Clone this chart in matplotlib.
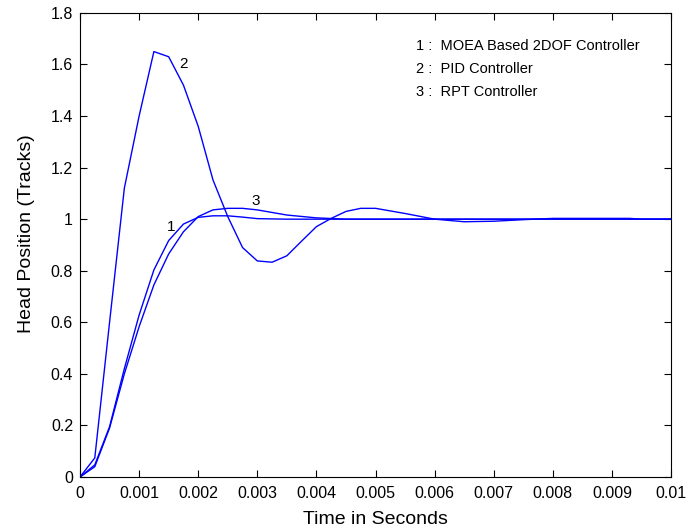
import matplotlib.pyplot as plt

plt.rcParams['font.family'] = ['Liberation Sans', 'DejaVu Sans']

# time samples (s)
t1 = [0, 0.00025, 0.0005, 0.00075, 0.001, 0.00125, 0.0015, 0.00175, 0.002, 0.00225,
      0.0025, 0.00275, 0.003, 0.0035, 0.004, 0.005, 0.006, 0.007, 0.008, 0.009, 0.01]
moea = [0, 0.047, 0.195, 0.42, 0.628, 0.803, 0.917, 0.981, 1.007, 1.013,
        1.013, 1.008, 1.002, 1.0, 1.0, 1.0, 1.0, 1.0, 1.0, 1.0, 1.0]

t2 = [0, 0.00025, 0.0005, 0.00075, 0.001, 0.00125, 0.0015, 0.00175, 0.002, 0.00225,
      0.0025, 0.00275, 0.003, 0.00325, 0.0035, 0.00375, 0.004, 0.00425, 0.0045,
      0.00475, 0.005, 0.0055, 0.006, 0.0065, 0.007, 0.0075, 0.008, 0.0085, 0.009,
      0.0093, 0.0095, 0.01]
pid = [0, 0.074, 0.6, 1.12, 1.40, 1.65, 1.63, 1.52, 1.36, 1.152,
       1.01, 0.89, 0.838, 0.833, 0.858, 0.915, 0.971, 1.003, 1.03,
       1.042, 1.042, 1.022, 1.0, 0.99, 0.992, 0.998, 1.003, 1.003, 1.003,
       1.003, 1.0, 1.0]

t3 = [0, 0.00025, 0.0005, 0.00075, 0.001, 0.00125, 0.0015, 0.00175, 0.002, 0.00225,
      0.0025, 0.00275, 0.003, 0.0035, 0.004, 0.0045, 0.005, 0.01]
rpt = [0, 0.04, 0.19, 0.40, 0.583, 0.745, 0.865, 0.951, 1.01, 1.036,
       1.042, 1.042, 1.036, 1.016, 1.005, 1.0, 1.0, 1.0]

legend_lines = ['1 :  MOEA Based 2DOF Controller', '2 :  PID Controller', '3 :  RPT Controller']

fig = plt.figure(figsize=(6.88, 5.31), dpi=100)
ax = fig.add_axes([0.1163, 0.1017, 0.859, 0.874])

for t, y in [(t1, moea), (t2, pid), (t3, rpt)]:
    ax.plot(t, y, color='#0000ff', linewidth=1.0)

ax.text(0.00155, 0.97, '1', fontsize=11, ha='center', va='center')
ax.text(0.00175, 1.60, '2', fontsize=11, ha='center', va='center')
ax.text(0.00297, 1.07, '3', fontsize=11, ha='center', va='center')

for i, s in enumerate(legend_lines):
    ax.text(0.00568, 1.67 - i * 0.088, s, fontsize=10.5, ha='left', va='center')

ax.set_xlim(0, 0.01)
ax.set_ylim(0, 1.8)
ax.set_xticks([i * 0.001 for i in range(11)])
ax.set_xticklabels(['0', '0.001', '0.002', '0.003', '0.004', '0.005', '0.006',
                    '0.007', '0.008', '0.009', '0.01'])
ax.set_yticks([i * 0.2 for i in range(10)])
ax.set_yticklabels(['0', '0.2', '0.4', '0.6', '0.8', '1', '1.2', '1.4', '1.6', '1.8'])
ax.tick_params(direction='in', top=True, right=True, labelsize=11.5, length=5)
ax.tick_params(axis='x', pad=6.5)
ax.tick_params(axis='y', pad=5)
ax.set_xlabel('Time in Seconds', fontsize=14, labelpad=7)
ax.set_ylabel('Head Position (Tracks)', fontsize=14)
ax.yaxis.set_label_coords(-0.077, 0.524)

fig.savefig('out.png', dpi=100)
